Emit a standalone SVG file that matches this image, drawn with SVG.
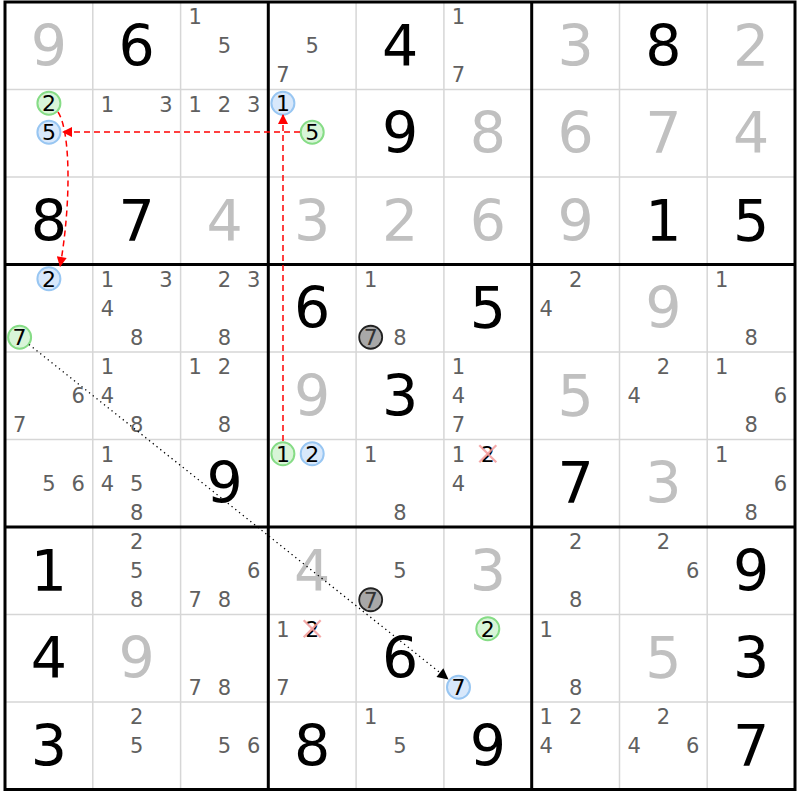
<svg xmlns="http://www.w3.org/2000/svg" width="800" height="800" viewBox="0 0 800 800">
<style>
text{font-family:"DejaVu Sans",Verdana,sans-serif;text-anchor:middle}
.g{font-size:57px;fill:#000}
.s{font-size:57px;fill:#c0c0c0}
.c{font-size:21px;fill:#606060}
.k{font-size:22px;fill:#000}
.kg{font-size:22px;fill:#333}
.cg{fill:#d8f5d8;stroke:#86dc86;stroke-width:2}
.cb{fill:#d8e8fb;stroke:#98c6f2;stroke-width:2}
.cx{fill:#a8a8a8;stroke:#222;stroke-width:1.8}
.x{stroke:#f29a9a;stroke-width:2.2;stroke-opacity:0.85}
.thin{stroke:#d6d6d6;stroke-width:1.5}
.thick{stroke:#000;stroke-width:3;fill:none}
.red{stroke:#ff0000;stroke-width:1.5;stroke-dasharray:6 4;fill:none}
.dot{stroke:#000;stroke-width:1.3;stroke-dasharray:1.3 3.5;fill:none}
</style>
<defs>
<marker id="ar" viewBox="0 0 10 10" refX="10" refY="5" markerWidth="15" markerHeight="10" markerUnits="userSpaceOnUse" orient="auto"><path d="M0,0 L10,5 L0,10 Z" fill="#ff0000"/></marker>
<marker id="ab" viewBox="0 0 10 10" refX="10" refY="5" markerWidth="16" markerHeight="11" markerUnits="userSpaceOnUse" orient="auto"><path d="M0,0 L10,5 L0,10 Z" fill="#000"/></marker>
</defs>
<rect width="800" height="800" fill="#fff"/>
<g id="grid">
<g class="thin">
<line x1="92.8" y1="2" x2="92.8" y2="789.5"/><line x1="180.6" y1="2" x2="180.6" y2="789.5"/>
<line x1="356.1" y1="2" x2="356.1" y2="789.5"/><line x1="443.9" y1="2" x2="443.9" y2="789.5"/>
<line x1="619.5" y1="2" x2="619.5" y2="789.5"/><line x1="707.2" y1="2" x2="707.2" y2="789.5"/>
<line x1="5" y1="89.5" x2="795" y2="89.5"/><line x1="5" y1="177" x2="795" y2="177"/>
<line x1="5" y1="352" x2="795" y2="352"/><line x1="5" y1="439.5" x2="795" y2="439.5"/>
<line x1="5" y1="614.5" x2="795" y2="614.5"/><line x1="5" y1="702" x2="795" y2="702"/>
</g>
<g class="thick">
<rect x="5" y="2" width="790" height="787.5"/>
<line x1="268.3" y1="2" x2="268.3" y2="789.5"/><line x1="531.7" y1="2" x2="531.7" y2="789.5"/>
<line x1="5" y1="264.5" x2="795" y2="264.5"/><line x1="5" y1="527" x2="795" y2="527"/>
</g>
</g>
<g id="r1">
<g id="r1c1" transform="translate(48.9,45.75)"><text class="s" y="20">9</text></g>
<g id="r1c2" transform="translate(136.7,45.75)"><text class="g" y="20">6</text></g>
<g id="r1c3" transform="translate(224.5,45.75)"><text class="c" x="-29.3" y="-21.7">1</text><text class="c" y="7.5">5</text></g>
<g id="r1c4" transform="translate(312.2,45.75)"><text class="c" y="7.5">5</text><text class="c" x="-29.3" y="36.7">7</text></g>
<g id="r1c5" transform="translate(400,45.75)"><text class="g" y="20">4</text></g>
<g id="r1c6" transform="translate(487.8,45.75)"><text class="c" x="-29.3" y="-21.7">1</text><text class="c" x="-29.3" y="36.7">7</text></g>
<g id="r1c7" transform="translate(575.6,45.75)"><text class="s" y="20">3</text></g>
<g id="r1c8" transform="translate(663.4,45.75)"><text class="g" y="20">8</text></g>
<g id="r1c9" transform="translate(751.1,45.75)"><text class="s" y="20">2</text></g>
</g>
<g id="r2">
<g id="r2c1" transform="translate(48.9,133.25)"><circle class="cg" cx="0" cy="-30" r="11.5"/><text class="k" y="-22">2</text><circle class="cb" cx="0" cy="-1" r="11.5"/><text class="k" y="7">5</text></g>
<g id="r2c2" transform="translate(136.7,133.25)"><text class="c" x="-29.3" y="-21.7">1</text><text class="c" x="29.3" y="-21.7">3</text></g>
<g id="r2c3" transform="translate(224.5,133.25)"><text class="c" x="-29.3" y="-21.7">1</text><text class="c" y="-21.7">2</text><text class="c" x="29.3" y="-21.7">3</text></g>
<g id="r2c4" transform="translate(312.2,133.25)"><circle class="cb" cx="-29.3" cy="-30" r="11.5"/><text class="k" x="-29.3" y="-22">1</text><circle class="cg" cx="0" cy="-1" r="11.5"/><text class="k" y="7">5</text></g>
<g id="r2c5" transform="translate(400,133.25)"><text class="g" y="20">9</text></g>
<g id="r2c6" transform="translate(487.8,133.25)"><text class="s" y="20">8</text></g>
<g id="r2c7" transform="translate(575.6,133.25)"><text class="s" y="20">6</text></g>
<g id="r2c8" transform="translate(663.4,133.25)"><text class="s" y="20">7</text></g>
<g id="r2c9" transform="translate(751.1,133.25)"><text class="s" y="20">4</text></g>
</g>
<g id="r3">
<g id="r3c1" transform="translate(48.9,220.75)"><text class="g" y="20">8</text></g>
<g id="r3c2" transform="translate(136.7,220.75)"><text class="g" y="20">7</text></g>
<g id="r3c3" transform="translate(224.5,220.75)"><text class="s" y="20">4</text></g>
<g id="r3c4" transform="translate(312.2,220.75)"><text class="s" y="20">3</text></g>
<g id="r3c5" transform="translate(400,220.75)"><text class="s" y="20">2</text></g>
<g id="r3c6" transform="translate(487.8,220.75)"><text class="s" y="20">6</text></g>
<g id="r3c7" transform="translate(575.6,220.75)"><text class="s" y="20">9</text></g>
<g id="r3c8" transform="translate(663.4,220.75)"><text class="g" y="20">1</text></g>
<g id="r3c9" transform="translate(751.1,220.75)"><text class="g" y="20">5</text></g>
</g>
<g id="r4">
<g id="r4c1" transform="translate(48.9,308.25)"><circle class="cb" cx="0" cy="-29.5" r="11.5"/><text class="k" y="-21.5">2</text><circle class="cg" cx="-29.3" cy="29" r="11.5"/><text class="k" x="-29.3" y="37">7</text></g>
<g id="r4c2" transform="translate(136.7,308.25)"><text class="c" x="-29.3" y="-21.7">1</text><text class="c" x="29.3" y="-21.7">3</text><text class="c" x="-29.3" y="7.5">4</text><text class="c" y="36.7">8</text></g>
<g id="r4c3" transform="translate(224.5,308.25)"><text class="c" y="-21.7">2</text><text class="c" x="29.3" y="-21.7">3</text><text class="c" y="36.7">8</text></g>
<g id="r4c4" transform="translate(312.2,308.25)"><text class="g" y="20">6</text></g>
<g id="r4c5" transform="translate(400,308.25)"><text class="c" x="-29.3" y="-21.7">1</text><circle class="cx" cx="-29.3" cy="29" r="11.5"/><text class="kg" x="-29.3" y="37">7</text><text class="c" y="36.7">8</text></g>
<g id="r4c6" transform="translate(487.8,308.25)"><text class="g" y="20">5</text></g>
<g id="r4c7" transform="translate(575.6,308.25)"><text class="c" y="-21.7">2</text><text class="c" x="-29.3" y="7.5">4</text></g>
<g id="r4c8" transform="translate(663.4,308.25)"><text class="s" y="20">9</text></g>
<g id="r4c9" transform="translate(751.1,308.25)"><text class="c" x="-29.3" y="-21.7">1</text><text class="c" y="36.7">8</text></g>
</g>
<g id="r5">
<g id="r5c1" transform="translate(48.9,395.75)"><text class="c" x="29.3" y="7.5">6</text><text class="c" x="-29.3" y="36.7">7</text></g>
<g id="r5c2" transform="translate(136.7,395.75)"><text class="c" x="-29.3" y="-21.7">1</text><text class="c" x="-29.3" y="7.5">4</text><text class="c" y="36.7">8</text></g>
<g id="r5c3" transform="translate(224.5,395.75)"><text class="c" x="-29.3" y="-21.7">1</text><text class="c" y="-21.7">2</text><text class="c" y="36.7">8</text></g>
<g id="r5c4" transform="translate(312.2,395.75)"><text class="s" y="20">9</text></g>
<g id="r5c5" transform="translate(400,395.75)"><text class="g" y="20">3</text></g>
<g id="r5c6" transform="translate(487.8,395.75)"><text class="c" x="-29.3" y="-21.7">1</text><text class="c" x="-29.3" y="7.5">4</text><text class="c" x="-29.3" y="36.7">7</text></g>
<g id="r5c7" transform="translate(575.6,395.75)"><text class="s" y="20">5</text></g>
<g id="r5c8" transform="translate(663.4,395.75)"><text class="c" y="-21.7">2</text><text class="c" x="-29.3" y="7.5">4</text></g>
<g id="r5c9" transform="translate(751.1,395.75)"><text class="c" x="-29.3" y="-21.7">1</text><text class="c" x="29.3" y="7.5">6</text><text class="c" y="36.7">8</text></g>
</g>
<g id="r6">
<g id="r6c1" transform="translate(48.9,483.25)"><text class="c" y="7.5">5</text><text class="c" x="29.3" y="7.5">6</text></g>
<g id="r6c2" transform="translate(136.7,483.25)"><text class="c" x="-29.3" y="-21.7">1</text><text class="c" x="-29.3" y="7.5">4</text><text class="c" y="7.5">5</text><text class="c" y="36.7">8</text></g>
<g id="r6c3" transform="translate(224.5,483.25)"><text class="g" y="20">9</text></g>
<g id="r6c4" transform="translate(312.2,483.25)"><circle class="cg" cx="-29.3" cy="-29.5" r="11.5"/><text class="k" x="-29.3" y="-21.5">1</text><circle class="cb" cx="0" cy="-29.5" r="11.5"/><text class="k" y="-21.5">2</text></g>
<g id="r6c5" transform="translate(400,483.25)"><text class="c" x="-29.3" y="-21.7">1</text><text class="c" y="36.7">8</text></g>
<g id="r6c6" transform="translate(487.8,483.25)"><text class="c" x="-29.3" y="-21.7">1</text><text class="k" y="-21.5">2</text><line class="x" x1="-8.5" y1="-38" x2="8.5" y2="-21"/><line class="x" x1="8.5" y1="-38" x2="-8.5" y2="-21"/><text class="c" x="-29.3" y="7.5">4</text></g>
<g id="r6c7" transform="translate(575.6,483.25)"><text class="g" y="20">7</text></g>
<g id="r6c8" transform="translate(663.4,483.25)"><text class="s" y="20">3</text></g>
<g id="r6c9" transform="translate(751.1,483.25)"><text class="c" x="-29.3" y="-21.7">1</text><text class="c" x="29.3" y="7.5">6</text><text class="c" y="36.7">8</text></g>
</g>
<g id="r7">
<g id="r7c1" transform="translate(48.9,570.75)"><text class="g" y="20">1</text></g>
<g id="r7c2" transform="translate(136.7,570.75)"><text class="c" y="-21.7">2</text><text class="c" y="7.5">5</text><text class="c" y="36.7">8</text></g>
<g id="r7c3" transform="translate(224.5,570.75)"><text class="c" x="29.3" y="7.5">6</text><text class="c" x="-29.3" y="36.7">7</text><text class="c" y="36.7">8</text></g>
<g id="r7c4" transform="translate(312.2,570.75)"><text class="s" y="20">4</text></g>
<g id="r7c5" transform="translate(400,570.75)"><text class="c" y="7.5">5</text><circle class="cx" cx="-29.3" cy="29" r="11.5"/><text class="kg" x="-29.3" y="37">7</text></g>
<g id="r7c6" transform="translate(487.8,570.75)"><text class="s" y="20">3</text></g>
<g id="r7c7" transform="translate(575.6,570.75)"><text class="c" y="-21.7">2</text><text class="c" y="36.7">8</text></g>
<g id="r7c8" transform="translate(663.4,570.75)"><text class="c" y="-21.7">2</text><text class="c" x="29.3" y="7.5">6</text></g>
<g id="r7c9" transform="translate(751.1,570.75)"><text class="g" y="20">9</text></g>
</g>
<g id="r8">
<g id="r8c1" transform="translate(48.9,658.25)"><text class="g" y="20">4</text></g>
<g id="r8c2" transform="translate(136.7,658.25)"><text class="s" y="20">9</text></g>
<g id="r8c3" transform="translate(224.5,658.25)"><text class="c" x="-29.3" y="36.7">7</text><text class="c" y="36.7">8</text></g>
<g id="r8c4" transform="translate(312.2,658.25)"><text class="c" x="-29.3" y="-21.7">1</text><text class="k" y="-21.5">2</text><line class="x" x1="-8.5" y1="-38" x2="8.5" y2="-21"/><line class="x" x1="8.5" y1="-38" x2="-8.5" y2="-21"/><text class="c" x="-29.3" y="36.7">7</text></g>
<g id="r8c5" transform="translate(400,658.25)"><text class="g" y="20">6</text></g>
<g id="r8c6" transform="translate(487.8,658.25)"><circle class="cg" cx="0" cy="-29.5" r="11.5"/><text class="k" y="-21.5">2</text><circle class="cb" cx="-29.3" cy="29" r="11.5"/><text class="k" x="-29.3" y="37">7</text></g>
<g id="r8c7" transform="translate(575.6,658.25)"><text class="c" x="-29.3" y="-21.7">1</text><text class="c" y="36.7">8</text></g>
<g id="r8c8" transform="translate(663.4,658.25)"><text class="s" y="20">5</text></g>
<g id="r8c9" transform="translate(751.1,658.25)"><text class="g" y="20">3</text></g>
</g>
<g id="r9">
<g id="r9c1" transform="translate(48.9,745.75)"><text class="g" y="20">3</text></g>
<g id="r9c2" transform="translate(136.7,745.75)"><text class="c" y="-21.7">2</text><text class="c" y="7.5">5</text></g>
<g id="r9c3" transform="translate(224.5,745.75)"><text class="c" y="7.5">5</text><text class="c" x="29.3" y="7.5">6</text></g>
<g id="r9c4" transform="translate(312.2,745.75)"><text class="g" y="20">8</text></g>
<g id="r9c5" transform="translate(400,745.75)"><text class="c" x="-29.3" y="-21.7">1</text><text class="c" y="7.5">5</text></g>
<g id="r9c6" transform="translate(487.8,745.75)"><text class="g" y="20">9</text></g>
<g id="r9c7" transform="translate(575.6,745.75)"><text class="c" x="-29.3" y="-21.7">1</text><text class="c" y="-21.7">2</text><text class="c" x="-29.3" y="7.5">4</text></g>
<g id="r9c8" transform="translate(663.4,745.75)"><text class="c" y="-21.7">2</text><text class="c" x="-29.3" y="7.5">4</text><text class="c" x="29.3" y="7.5">6</text></g>
<g id="r9c9" transform="translate(751.1,745.75)"><text class="g" y="20">7</text></g>
</g>
<g id="connectors">
<line class="red" x1="283" y1="441" x2="283" y2="114" marker-end="url(#ar)"/>
<line class="red" x1="300" y1="132" x2="62" y2="132" marker-end="url(#ar)"/>
<path class="red" d="M58,112 C71,132 71,205 60,267" marker-end="url(#ar)"/>
<line class="dot" x1="29" y1="344.5" x2="448.5" y2="679.5" marker-end="url(#ab)"/>
</g>
</svg>
